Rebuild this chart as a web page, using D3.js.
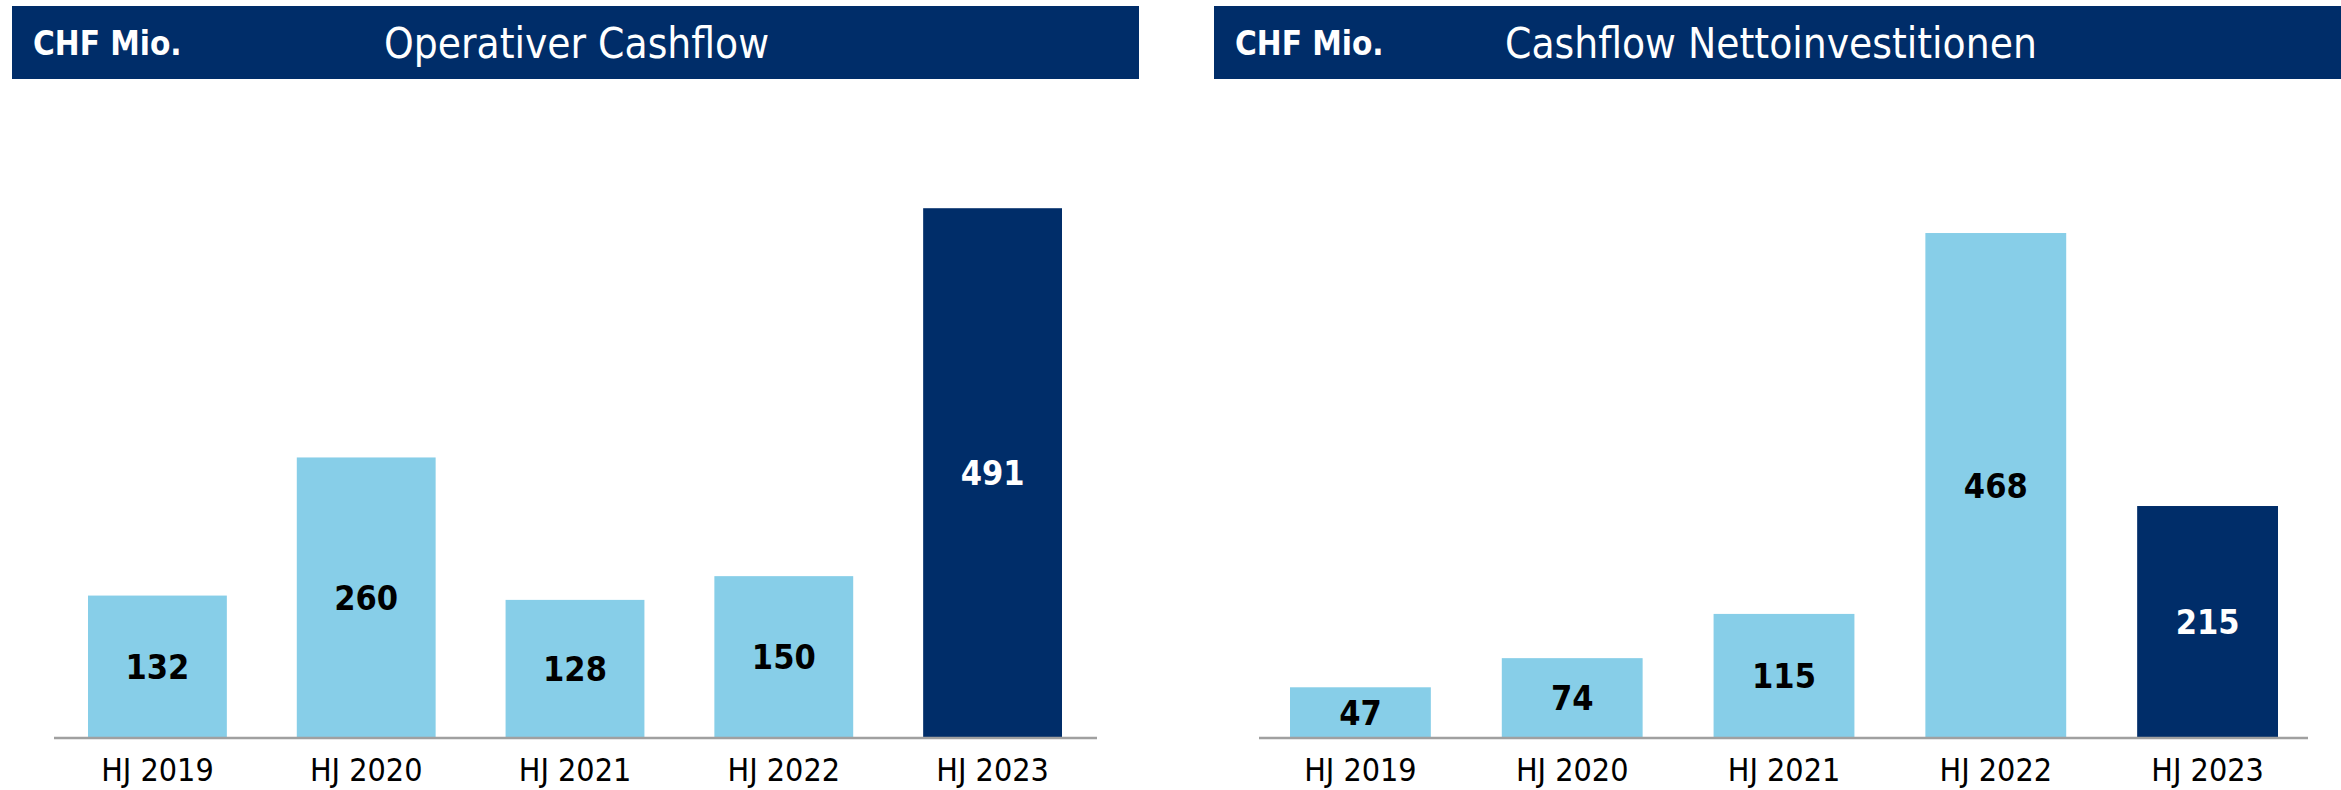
<!DOCTYPE html>
<html lang="de">
<head>
	<meta charset="UTF-8">
	<title>Cashflow</title>
	<script src="https://cdn.jsdelivr.net/npm/d3@7"></script>
	<style>
		html, body { margin: 0; padding: 0; background: #fff; }
		svg text { font-family: "DejaVu Sans Condensed", "Liberation Sans Narrow", "DejaVu Sans", sans-serif; }
	</style>
</head>
<body>
	<div id="vis"></div>

	<script>
		// chart data
		var categories = ["HJ 2019", "HJ 2020", "HJ 2021", "HJ 2022", "HJ 2023"];
		var operativerCashflow = [132, 260, 128, 150, 491];
		var nettoinvestitionen = [47, 74, 115, 468, 215];
		var unitLabel = "CHF Mio.";
		var titles = ["Operativer Cashflow", "Cashflow Nettoinvestitionen"];

		var width = 2341;
		var height = 790;

		var navy = "#002d69";
		var lightBlue = "#87cee8";

		var svg = d3.select("#vis").append("svg")
				.attr("width", width)
				.attr("height", height);

		// both panels share the same value scale
		var baseY = 738;
		var y = d3.scaleLinear()
				.domain([0, 500])
				.range([baseY, baseY - 539.5]);

		function drawPanel(opts) {
			var g = svg.append("g");

			// header band
			g.append("rect")
					.attr("x", opts.headerX)
					.attr("y", 6)
					.attr("width", opts.headerW)
					.attr("height", 73)
					.attr("fill", navy);

			g.append("text")
					.attr("x", opts.headerX + 21)
					.attr("y", 43)
					.attr("dominant-baseline", "central")
					.attr("fill", "#fff")
					.attr("font-size", 33)
					.attr("font-weight", "bold")
					.text(unitLabel);

			g.append("text")
					.attr("x", opts.titleX)
					.attr("y", 43)
					.attr("dominant-baseline", "central")
					.attr("fill", "#fff")
					.attr("font-size", 42)
					.attr("font-weight", 300)
					.text(opts.title);

			// bars sit between bandX0 and bandX1, the axis line runs a bit wider
			var x = d3.scaleBand()
					.domain(categories)
					.range([opts.bandX0, opts.bandX1])
					.paddingInner(0.335)
					.paddingOuter(0);

			var data = categories.map(function(c, i) {
				return { cat: c, value: opts.values[i], last: i === categories.length - 1 };
			});

			g.selectAll(".bar")
					.data(data)
				.enter().append("rect")
					.attr("class", "bar")
					.attr("x", function(d) { return x(d.cat); })
					.attr("y", function(d) { return y(d.value); })
					.attr("width", x.bandwidth())
					.attr("height", function(d) { return baseY - y(d.value); })
					.attr("fill", function(d) { return d.last ? navy : lightBlue; });

			// value labels in the middle of each bar
			g.selectAll(".val")
					.data(data)
				.enter().append("text")
					.attr("class", "val")
					.attr("x", function(d) { return x(d.cat) + x.bandwidth() / 2; })
					.attr("y", function(d) { return (y(d.value) + baseY) / 2; })
					.attr("text-anchor", "middle")
					.attr("dominant-baseline", "central")
					.attr("font-size", 34)
					.attr("font-weight", "bold")
					.attr("fill", function(d) { return d.last ? "#fff" : "#000"; })
					.text(function(d) { return d.value; });

			// x axis
			var axis = g.append("g")
					.attr("transform", "translate(0," + baseY + ")")
					.call(d3.axisBottom(x).tickSize(0).tickPadding(0));

			axis.select(".domain")
					.attr("stroke", "#a0a0a0")
					.attr("stroke-width", 2.5)
					.attr("d", "M" + opts.axisX0 + ",0H" + opts.axisX1);

			axis.selectAll("text")
					.attr("y", 32)
					.attr("dy", null)
					.attr("dominant-baseline", "central")
					.attr("font-size", 32)
					.attr("fill", "#000");
			axis.attr("font-family", null).attr("font-size", null);
		}

		drawPanel({
			title: titles[0],
			values: operativerCashflow,
			headerX: 12, headerW: 1127,
			titleX: 384,
			bandX0: 88, bandX1: 1062,
			axisX0: 54, axisX1: 1097
		});

		drawPanel({
			title: titles[1],
			values: nettoinvestitionen,
			headerX: 1214, headerW: 1127,
			titleX: 1505,
			bandX0: 1290, bandX1: 2278,
			axisX0: 1259, axisX1: 2308
		});
	</script>
</body>
</html>
